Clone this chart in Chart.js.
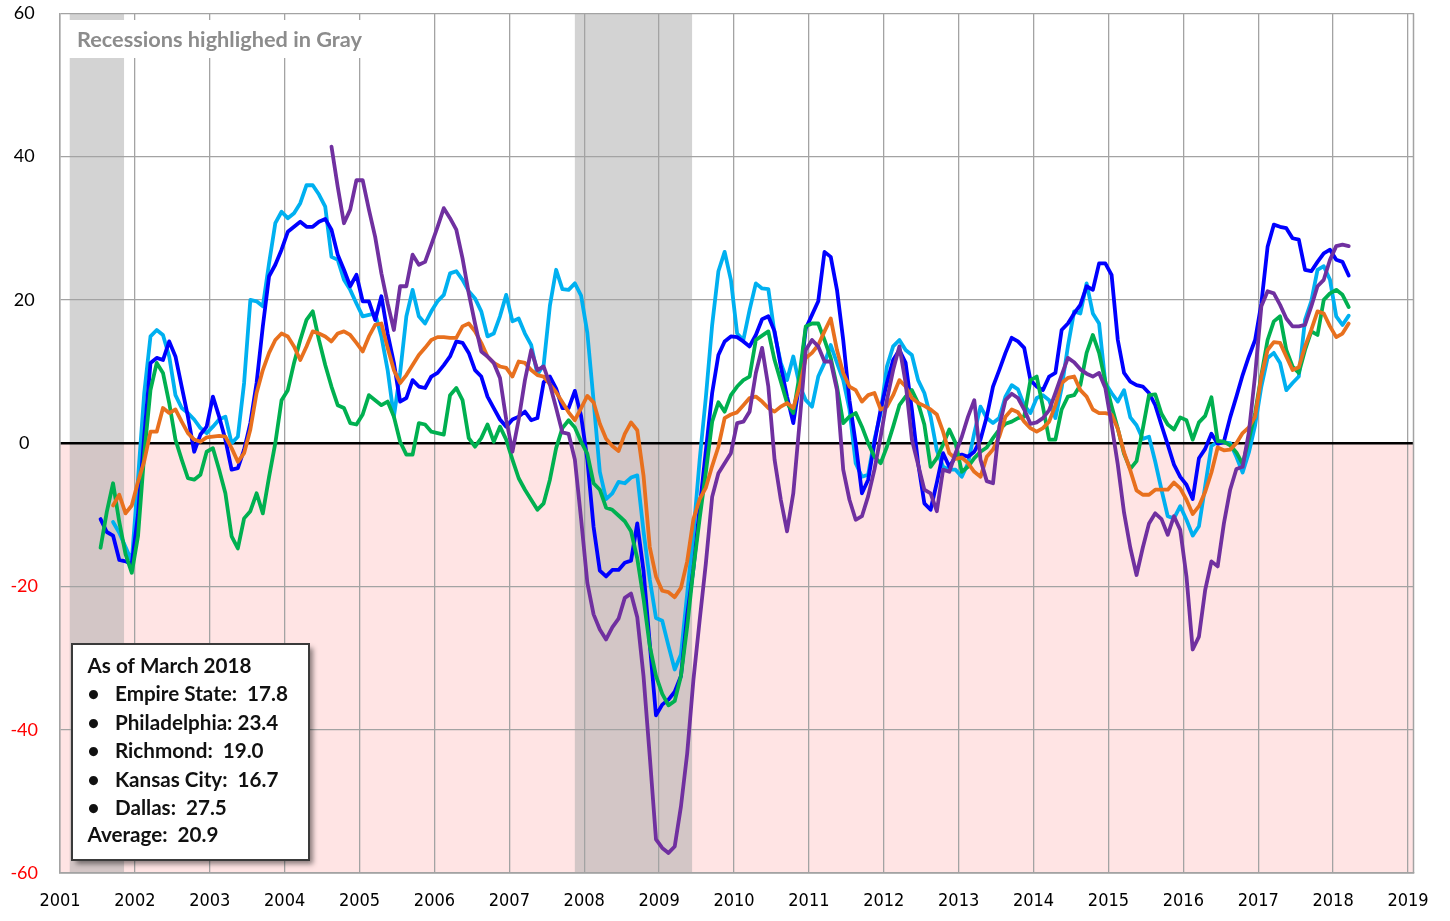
<!DOCTYPE html>
<html>
<head>
<meta charset="utf-8">
<script src="https://cdn.jsdelivr.net/npm/chart.js@4.4.1/dist/chart.umd.min.js"></script>
<style>
html,body{margin:0;padding:0;background:#ffffff;}
canvas{display:block;}
</style>
</head>
<body>
<canvas id="chart" width="1450" height="921"></canvas>
<script>
// ---------------- DATA ----------------
const seriesNames  = ['Empire State', 'Philadelphia', 'Richmond', 'Kansas City', 'Dallas'];
const seriesColors = ['#00B0F0', '#0000FF', '#00B050', '#E8701E', '#7030A0'];
const seriesStart  = ['2001-09', '2001-07', '2001-07', '2001-09', '2004-08'];

const empireState = [
  -11.0, -12.5, -14.5, -16.5,
  -5.0, 7.0, 14.9, 15.8, 15.1, 12.1, 6.7, 4.9, 4.2, 3.3, 2.1, 1.4,
  2.3, 3.3, 3.7, 0.0, 0.9, 8.4, 20.0, 19.8, 19.1, 25.1, 30.7, 32.3,
  31.4, 32.1, 33.5, 36.0, 36.0, 34.7, 33.0, 26.0, 25.6, 22.8, 21.4, 19.5,
  17.7, 17.9, 18.1, 14.9, 10.2, 3.7, 9.8, 17.7, 21.4, 17.7, 16.7, 18.4,
  19.8, 20.7, 23.7, 24.0, 22.8, 21.2, 20.2, 18.4, 14.9, 15.3, 17.7, 20.7,
  17.0, 17.4, 15.3, 13.7, 9.6, 10.9, 19.2, 24.2, 21.5, 21.4, 22.3, 20.6,
  15.4, 5.9, -4.0, -7.8, -7.0, -5.4, -5.6, -4.8, -4.5, -12.3, -19.0, -24.4,
  -24.8, -28.3, -31.6, -29.5, -21.0, -12.5, -2.3, 6.5, 16.5, 24.0, 26.7, 22.8,
  15.3, 14.4, 18.6, 22.3, 21.6, 21.5, 15.3, 11.2, 8.8, 12.1, 8.1, 6.0,
  5.1, 9.3, 11.2, 13.7, 11.2, 8.8, 4.7, -2.8, -4.7, -4.4, 0.5, 4.2,
  10.7, 13.5, 14.4, 13.0, 12.3, 8.8, 7.0, 3.7, -1.0, -3.3, -3.7, -3.7,
  -4.7, -2.8, 1.4, 5.1, 3.5, 2.8, 3.5, 6.5, 8.1, 7.5, 5.3, 4.2,
  6.3, 6.7, 6.0, 3.5, 7.7, 13.5, 18.4, 18.1, 22.3, 18.1, 16.7, 8.4,
  7.0, 5.8, 7.4, 3.6, 2.5, 0.6, 0.9, -2.6, -6.5, -10.2, -10.5, -8.8,
  -10.7, -12.9, -11.6, -6.0, -0.4, 0.2, 0.1, 0.0, -1.9, -4.1, -1.3, 2.5,
  7.9, 11.9, 12.6, 11.2, 7.4, 8.4, 9.3, 17.2, 19.8, 24.2, 24.7, 22.8,
  17.7, 16.5, 17.8
];

const philadelphia = [
  -10.6, -12.4, -12.9, -16.3, -16.5, -16.9,
  -10.0, 1.0, 11.2, 11.9, 11.6, 14.2, 12.1, 7.9, 3.7, -1.2, 1.2, 2.3,
  6.5, 3.7, 0.5, -3.7, -3.5, -0.9, 2.8, 8.4, 16.3, 23.3, 24.9, 27.0,
  29.5, 30.2, 30.9, 30.2, 30.2, 30.9, 31.3, 29.8, 26.3, 24.2, 21.9, 23.5,
  19.8, 19.8, 17.2, 20.5, 15.3, 11.2, 5.8, 6.3, 8.8, 7.9, 7.7, 9.3,
  9.8, 10.9, 12.1, 14.2, 14.0, 12.6, 10.2, 9.3, 6.5, 4.9, 3.3, 2.3,
  3.3, 3.7, 4.4, 3.2, 3.5, 8.5, 9.3, 7.6, 4.9, 4.9, 7.3, 3.8,
  -2.3, -11.7, -17.8, -18.6, -17.7, -17.7, -16.7, -16.4, -11.2, -17.8, -28.0, -38.0,
  -36.5, -35.8, -34.7, -32.5, -24.0, -17.5, -9.0, -1.0, 7.0, 12.3, 14.2, 14.9,
  14.8, 14.2, 13.5, 15.1, 17.3, 17.7, 15.6, 10.7, 6.5, 2.8, 8.4, 16.0,
  17.9, 19.8, 26.7, 26.0, 21.4, 14.4, 6.0, 0.0, -7.0, -5.1, 0.0, 4.7,
  8.4, 11.6, 13.0, 11.2, 4.7, -2.8, -8.4, -9.3, -5.5, -1.4, -3.3, -1.9,
  -1.6, -1.9, -1.2, 0.5, 3.7, 7.9, 10.2, 12.6, 14.7, 14.2, 13.3, 8.8,
  7.9, 7.4, 9.3, 9.8, 15.8, 16.7, 18.1, 19.3, 21.9, 21.4, 25.1, 25.1,
  23.5, 14.4, 9.8, 8.6, 8.1, 7.9, 7.0, 5.3, 2.5, -0.2, -3.0, -4.7,
  -5.8, -7.8, -2.1, -0.8, 1.3, -0.1, 0.2, 3.6, 6.5, 9.5, 12.1, 14.4,
  19.5, 27.4, 30.5, 30.2, 30.0, 28.6, 28.4, 24.2, 24.0, 25.3, 26.5, 27.0,
  25.6, 25.3, 23.4
];

const richmond = [
  -14.6, -9.6, -5.6, -11.0, -15.5, -18.1,
  -13.0, -1.5, 7.4, 11.2, 9.8, 5.6, 0.5, -2.3, -4.9, -5.1, -4.4, -1.2,
  -0.7, -3.7, -7.0, -13.0, -14.7, -10.5, -9.5, -7.0, -9.8, -4.7, 0.0, 6.0,
  7.4, 11.2, 14.4, 17.2, 18.4, 14.4, 10.9, 7.9, 5.3, 4.9, 2.8, 2.6,
  4.0, 6.7, 6.0, 5.3, 5.8, 3.7, 0.2, -1.6, -1.6, 2.8, 2.6, 1.6,
  1.4, 1.2, 6.7, 7.7, 6.0, 0.7, -0.5, 0.7, 2.6, 0.2, 2.3, 0.5,
  -2.3, -4.9, -6.5, -7.9, -9.3, -8.4, -5.1, -0.7, 2.1, 3.2, 2.2, 0.2,
  -1.5, -5.6, -6.5, -9.0, -9.3, -10.1, -10.9, -12.3, -16.1, -21.7, -28.3, -32.5,
  -35.0, -36.6, -36.0, -32.5, -25.6, -17.5, -10.5, -4.0, 3.0, 5.7, 4.4, 6.7,
  7.9, 8.8, 9.3, 14.4, 15.0, 15.6, 11.6, 8.6, 5.6, 4.2, 9.5, 16.3,
  16.7, 16.7, 14.4, 11.9, 7.9, 2.8, 3.7, 4.2, 2.3, 0.0, -1.9, -2.8,
  -0.5, 2.3, 5.3, 6.5, 7.4, 5.6, 2.6, -3.3, -2.1, -0.2, 1.9, 0.0,
  -4.0, -3.3, -2.1, -1.2, -0.6, 0.7, 1.9, 2.7, 3.0, 3.5, 3.7, 8.8,
  9.3, 5.1, 0.5, 0.5, 4.7, 6.5, 6.7, 8.1, 12.6, 15.1, 12.6, 8.6,
  5.2, 2.0, -1.5, -3.6, -2.5, 2.0, 6.7, 6.8, 4.1, 2.6, 1.9, 3.6,
  3.2, 0.5, 2.9, 3.8, 6.4, 0.3, 0.2, -0.3, -1.3, -2.9, 0.5, 4.2,
  9.5, 14.4, 17.0, 17.7, 13.0, 10.7, 9.8, 13.0, 15.6, 15.1, 20.0, 20.9,
  21.4, 20.7, 19.0
];

const kansasCity = [
  -8.7, -7.2, -9.8, -8.7,
  -5.4, -2.5, 1.6, 1.6, 4.9, 4.2, 4.7, 3.0, 1.4, 0.5, 0.2, 0.8,
  0.9, 1.0, 0.9, -0.7, -2.6, -1.4, 1.9, 7.0, 10.2, 12.6, 14.4, 15.3,
  14.9, 13.5, 11.6, 13.5, 15.6, 15.3, 14.9, 14.2, 15.3, 15.6, 15.1, 14.0,
  12.8, 14.9, 16.5, 16.7, 13.3, 10.2, 8.4, 9.5, 10.9, 12.3, 13.3, 14.4,
  14.8, 14.8, 14.7, 14.7, 16.3, 16.7, 15.6, 14.0, 12.1, 11.2, 10.7, 10.5,
  9.3, 11.4, 11.2, 10.2, 9.5, 9.3, 8.2, 7.1, 5.7, 4.3, 3.2, 4.9,
  6.6, 5.7, 2.7, 0.6, -0.4, -1.1, 1.3, 2.9, 1.8, -4.5, -14.5, -18.6,
  -20.6, -20.8, -21.5, -20.2, -16.5, -10.6, -7.8, -6.2, -3.2, -0.5, 3.5, 4.0,
  4.3, 5.3, 6.3, 6.5, 5.8, 4.9, 4.4, 5.1, 5.6, 4.9, 7.9, 11.9,
  12.6, 13.7, 15.6, 17.4, 13.0, 9.8, 7.9, 7.4, 5.8, 6.7, 7.0, 4.7,
  5.1, 6.7, 8.8, 7.9, 6.3, 5.6, 5.2, 4.7, 4.0, 1.6, -1.4, -2.2,
  -2.0, -2.8, -4.0, -4.7, -1.9, -0.9, 0.9, 3.7, 4.7, 4.3, 3.0, 2.1,
  1.6, 2.1, 3.0, 5.3, 8.4, 9.1, 9.3, 7.4, 6.5, 4.7, 4.2, 4.2,
  4.0, 2.0, -1.3, -3.8, -6.6, -7.2, -7.2, -6.5, -6.5, -6.5, -5.5, -6.3,
  -7.9, -9.9, -8.8, -6.8, -4.1, -0.6, -1.0, -0.9, 0.0, 1.4, 2.2, 3.7,
  9.3, 13.0, 14.1, 14.0, 12.1, 10.2, 10.6, 13.5, 15.8, 18.4, 18.1, 16.3,
  14.8, 15.3, 16.7
];

const dallas = [
  41.4, 35.8, 30.7, 32.6, 36.7,
  36.7, 32.6, 28.8, 23.7, 19.5, 15.8, 21.9, 21.9, 26.3, 24.9, 25.3, 27.7,
  30.2, 32.8, 31.4, 29.8, 25.8, 20.9, 16.7, 12.8, 12.1, 11.2, 9.1, 3.3,
  -1.2, 3.3, 8.8, 13.0, 10.2, 10.7, 8.2, 4.9, 1.5, 1.3, -2.3, -10.6,
  -19.5, -23.9, -26.0, -27.4, -25.7, -24.5, -21.6, -21.0, -24.3, -32.5, -43.7, -55.3,
  -56.5, -57.2, -56.3, -50.7, -43.3, -33.0, -24.7, -16.7, -7.5, -4.2, -2.8, -1.4,
  2.8, 3.0, 4.4, 9.8, 13.3, 7.9, -2.3, -7.9, -12.3, -7.0, 2.8, 13.0,
  14.4, 13.5, 11.4, 11.4, 7.4, -3.7, -7.9, -10.7, -10.2, -7.4, -3.7, 0.9,
  6.0, 10.2, 13.5, 8.4, 0.5, -3.0, -6.5, -7.0, -9.5, -3.7, -4.0, -1.4,
  0.9, 3.7, 6.0, -2.3, -5.3, -5.6, 2.3, 6.0, 6.9, 6.3, 4.7, 2.7,
  2.9, 3.5, 4.6, 7.0, 9.5, 11.9, 11.3, 10.3, 9.7, 9.3, 9.8, 7.7,
  2.6, -3.0, -9.7, -14.6, -18.4, -14.6, -11.2, -9.8, -10.6, -12.8, -10.2, -12.1,
  -18.6, -28.8, -27.0, -20.5, -16.5, -17.2, -11.2, -6.5, -3.6, -3.3, 1.5, 9.5,
  19.1, 21.2, 20.9, 19.3, 17.4, 16.3, 16.3, 16.5, 19.1, 21.9, 22.8, 25.6,
  27.5, 27.7, 27.5
];

const recessions = [[2001.13, 2001.855], [2007.875, 2009.44]];
const xTickYears = [2001,2002,2003,2004,2005,2006,2007,2008,2009,2010,2011,2012,2013,2014,2015,2016,2017,2018,2019];
const yTickValues = [-60, -40, -20, 0, 20, 40, 60];
const asOfLabel = 'As of March 2018';
const noteLabel = 'Recessions highlighed in Gray';

// ---------------- BUILD ----------------
const allValues = [empireState, philadelphia, richmond, kansasCity, dallas];

function toPoints(start, values) {
  const [yy, mm] = start.split('-').map(Number);
  return values.map((v, i) => ({ x: yy + (mm - 1 + i + 0.5) / 12, y: v }));
}

const datasets = seriesNames.map((name, i) => ({
  label: name,
  data: toPoints(seriesStart[i], allValues[i]),
  borderColor: seriesColors[i],
  backgroundColor: seriesColors[i],
  borderWidth: 3.8,
  pointRadius: 0,
  tension: 0,
  fill: false,
  borderJoinStyle: 'round',
  borderCapStyle: 'round',
  order: seriesNames.length - i
}));

const GRID = '#a3a3a3';

const backgroundPlugin = {
  id: 'bgShading',
  beforeDraw(chart) {
    const { ctx, chartArea: a, scales: { x, y } } = chart;
    ctx.save();
    ctx.fillStyle = '#ffffff';
    ctx.fillRect(0, 0, chart.width, chart.height);
    const y0 = y.getPixelForValue(0);
    ctx.fillStyle = '#FFE4E4';
    ctx.fillRect(a.left, y0, a.right - a.left, a.bottom - y0);
    ctx.fillStyle = 'rgba(167,167,167,0.5)';
    recessions.forEach(([s, e]) => {
      const x1 = x.getPixelForValue(s), x2 = x.getPixelForValue(e);
      ctx.fillRect(x1, a.top, x2 - x1, a.bottom - a.top);
    });
    ctx.restore();
  }
};

function fitSize(ctx, text, weight, family, target) {
  ctx.font = `${weight} 100px ${family}`;
  return 100 * target / ctx.measureText(text).width;
}

const overlayPlugin = {
  id: 'overlay',
  afterDraw(chart) {
    const { ctx, chartArea: a } = chart;
    ctx.save();
    // right frame line
    ctx.strokeStyle = GRID;
    ctx.lineWidth = 1.5;
    ctx.beginPath();
    ctx.moveTo(a.right - 0.5, a.top);
    ctx.lineTo(a.right - 0.5, a.bottom);
    ctx.stroke();

    // recession note
    ctx.fillStyle = '#ffffff';
    ctx.fillRect(63, 20, 305, 38);
    const fam = 'Lato, "Open Sans", sans-serif';
    let s = fitSize(ctx, noteLabel, 'bold', fam, 285);
    ctx.font = `bold ${s.toFixed(2)}px ${fam}`;
    ctx.fillStyle = '#8c8c8c';
    ctx.textBaseline = 'middle';
    ctx.textAlign = 'left';
    ctx.fillText(noteLabel, 77, 40);

    // info box
    const bx = 72, by = 644, bw = 237, bh = 216;
    ctx.save();
    ctx.shadowColor = 'rgba(0,0,0,0.45)';
    ctx.shadowBlur = 5;
    ctx.shadowOffsetX = 4;
    ctx.shadowOffsetY = 4;
    ctx.fillStyle = '#ffffff';
    ctx.fillRect(bx, by, bw, bh);
    ctx.restore();
    ctx.strokeStyle = '#3a3a3a';
    ctx.lineWidth = 2;
    ctx.strokeRect(bx, by, bw, bh);

    const lasts = allValues.map(v => v[v.length - 1]);
    const avg = lasts.reduce((p, c) => p + c, 0) / lasts.length;
    const gap = n => (n === 'Philadelphia' ? ' ' : '  ');
    const fs = fitSize(ctx, asOfLabel, 'bold', fam, 164);
    ctx.font = `bold ${fs.toFixed(2)}px ${fam}`;
    ctx.fillStyle = '#111111';
    ctx.textBaseline = 'middle';
    const rows = [666, 694.5, 723, 751.5, 780, 808, 835.5];
    ctx.fillText(asOfLabel, 87.5, rows[0]);
    seriesNames.forEach((n, i) => {
      ctx.textAlign = 'center';
      ctx.fillText('\u2022', 93.5, rows[i + 1]);
      ctx.textAlign = 'left';
      ctx.fillText(`${n}:${gap(n)}${lasts[i].toFixed(1)}`, 115, rows[i + 1]);
    });
    ctx.fillText(`Average:  ${avg.toFixed(1)}`, 87.5, rows[6]);
    ctx.restore();
  }
};

const chart = new Chart(document.getElementById('chart').getContext('2d'), {
  type: 'line',
  data: { datasets },
  options: {
    responsive: false,
    animation: false,
    devicePixelRatio: 1,
    layout: { padding: { top: 0, right: 36, left: 0, bottom: 0 } },
    plugins: { legend: { display: false }, tooltip: { enabled: false } },
    scales: {
      x: {
        type: 'linear',
        min: 2001,
        max: 2019.08,
        afterBuildTicks: s => { s.ticks = xTickYears.map(v => ({ value: v })); },
        afterFit: s => { s.height = 48; s.paddingLeft = 0; s.paddingRight = 0; },
        ticks: {
          autoSkip: false,
          maxRotation: 0,
          padding: 18,
          color: '#000000',
          font: { family: '"Liberation Sans Narrow", "DejaVu Sans Condensed", sans-serif', size: 18 },
          callback: v => String(v)
        },
        grid: { color: GRID, lineWidth: 1.3, drawTicks: false },
        border: { display: true, color: GRID, width: 1.8 }
      },
      y: {
        min: -60,
        max: 60,
        afterBuildTicks: s => { s.ticks = yTickValues.map(v => ({ value: v })); },
        afterFit: s => { s.width = 60; s.paddingTop = 0; s.paddingBottom = 0; },
        ticks: {
          padding: 22,
          crossAlign: 'center',
          font: { family: 'Lato, "Open Sans", sans-serif', size: 18 },
          color: c => (c.tick && c.tick.value < 0 ? '#ff0000' : '#000000'),
          callback: v => String(v)
        },
        grid: {
          drawTicks: false,
          color: c => (c.tick && c.tick.value === 0 ? '#000000' : GRID),
          lineWidth: c => (c.tick && c.tick.value === 0 ? 2.6 : 1.3)
        },
        border: { display: true, color: GRID, width: 1.5 }
      }
    }
  },
  plugins: [backgroundPlugin, overlayPlugin]
});

// adjust layout padding so the plot area lands where the reference has it
const target = { top: 13.3, bottom: 873, right: 1414 };
for (let k = 0; k < 4; k++) {
  const a = chart.chartArea;
  const p = chart.options.layout.padding;
  p.top = p.top + (target.top - a.top);
  p.bottom = p.bottom + (a.bottom - target.bottom);
  p.right = p.right + (a.right - target.right);
  chart.update();
}
</script>
</body>
</html>
